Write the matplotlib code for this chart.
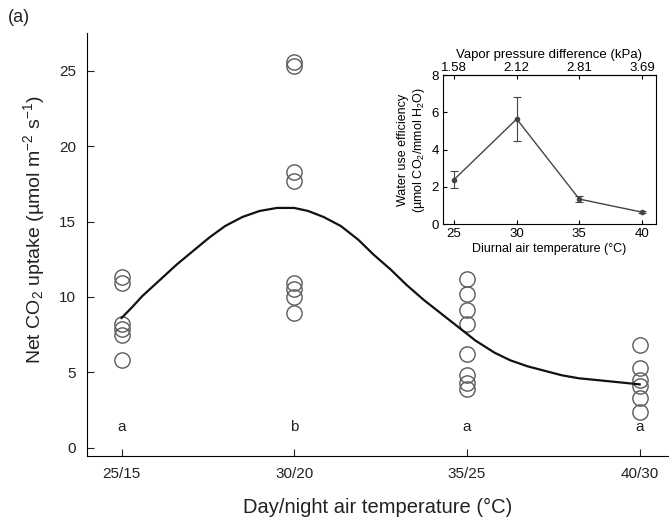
import numpy as np
import matplotlib
matplotlib.use("Agg")
import matplotlib.pyplot as plt

plt.rcParams['font.family'] = ['Liberation Sans', 'DejaVu Sans']
plt.rcParams['mathtext.fontset'] = 'custom'
plt.rcParams['mathtext.rm'] = 'Liberation Sans'
plt.rcParams['mathtext.it'] = 'Liberation Sans'

# Main panel data
categories = ['25/15', '30/20', '35/25', '40/30']
uptake_25 = [11.3, 10.9, 8.2, 7.9, 7.5, 5.8]
uptake_30 = [25.6, 25.3, 18.3, 17.7, 10.9, 10.5, 10.0, 8.9]
uptake_35 = [11.2, 10.2, 9.1, 8.2, 6.2, 4.8, 4.3, 3.9]
uptake_40 = [6.8, 5.3, 4.5, 4.1, 3.3, 2.4]
letters = ['a', 'b', 'a', 'a']

# fitted curve (x in category units)
curve_x = [0, 0.06, 0.12, 0.22, 0.32, 0.42, 0.51, 0.6, 0.7, 0.8, 0.9, 1.0,
           1.08, 1.17, 1.27, 1.37, 1.46, 1.56, 1.65, 1.75, 1.85, 1.95, 2.05,
           2.16, 2.25, 2.35, 2.45, 2.55, 2.65, 2.74, 2.87, 3.0]
curve_y = [8.6, 9.3, 10.05, 11.1, 12.15, 13.1, 13.95, 14.7, 15.3, 15.7, 15.9, 15.9,
           15.7, 15.3, 14.7, 13.8, 12.8, 11.8, 10.8, 9.8, 8.9, 8.0, 7.1,
           6.3, 5.8, 5.4, 5.1, 4.8, 4.6, 4.5, 4.35, 4.2]

# Inset data
diurnal_temp = [25, 30, 35, 40]
wue = [2.4, 5.65, 1.35, 0.65]
wue_err = [0.45, 1.2, 0.18, 0.06]
vpd_labels = ['1.58', '2.12', '2.81', '3.69']

fig = plt.figure(figsize=(6.69, 5.19), dpi=100)
ax = fig.add_axes([0.130, 0.1214, 0.870, 0.815])

groups = [uptake_25, uptake_30, uptake_35, uptake_40]
for i, vals in enumerate(groups):
    ax.plot([i] * len(vals), vals, 'o', ms=11, mfc='none', mec='#5a5a5a', mew=1.0)
    ax.text(i, 1.4, letters[i], ha='center', va='center', fontsize=11, color='#222222')

ax.plot(curve_x, curve_y, color='#111111', lw=1.6)

ax.set_xlim(-0.2, 3.17)
ax.set_ylim(-0.55, 27.5)
ax.set_xticks(range(len(categories)))
ax.set_xticklabels(categories)
ax.set_yticks([0, 5, 10, 15, 20, 25])
ax.spines['top'].set_visible(False)
ax.spines['right'].set_visible(False)
ax.tick_params(direction='in', length=5, labelsize=11, colors='#222222', pad=8)
ax.set_xlabel('Day/night air temperature (\u00b0C)', fontsize=14.5, labelpad=12, color='#222222')
ax.set_ylabel('Net CO$_2$ uptake (\u00b5mol m$^{-2}$ s$^{-1}$)', fontsize=14, color='#222222')
ax.yaxis.set_label_coords(-0.068, 0.535)
fig.text(0.012, 0.958, '(a)', fontsize=13, color='#222222')

# Inset
axi = fig.add_axes([0.662, 0.568, 0.318, 0.287])
axi.errorbar(diurnal_temp, wue, yerr=wue_err, color='#444444', lw=1.0,
             marker='o', ms=3, capsize=3, elinewidth=0.8, capthick=0.8)
axi.set_xlim(24.1, 41.1)
axi.set_ylim(0, 8)
axi.set_xticks(diurnal_temp)
axi.set_yticks([0, 2, 4, 6, 8])
axi.tick_params(direction='in', length=3, labelsize=9.5, pad=3)
axi.set_xlabel('Diurnal air temperature (\u00b0C)', fontsize=9, labelpad=2)
axi.set_ylabel('Water use efficiency\n(\u00b5mol CO$_2$/mmol H$_2$O)', fontsize=9, labelpad=3)

sec = axi.secondary_xaxis('top')
sec.set_xticks(diurnal_temp)
sec.set_xticklabels(vpd_labels)
sec.tick_params(direction='in', length=3, labelsize=9.5, pad=1)
sec.set_xlabel('Vapor pressure difference (kPa)', fontsize=9.5, labelpad=3)

fig.savefig('out.png', dpi=100)
